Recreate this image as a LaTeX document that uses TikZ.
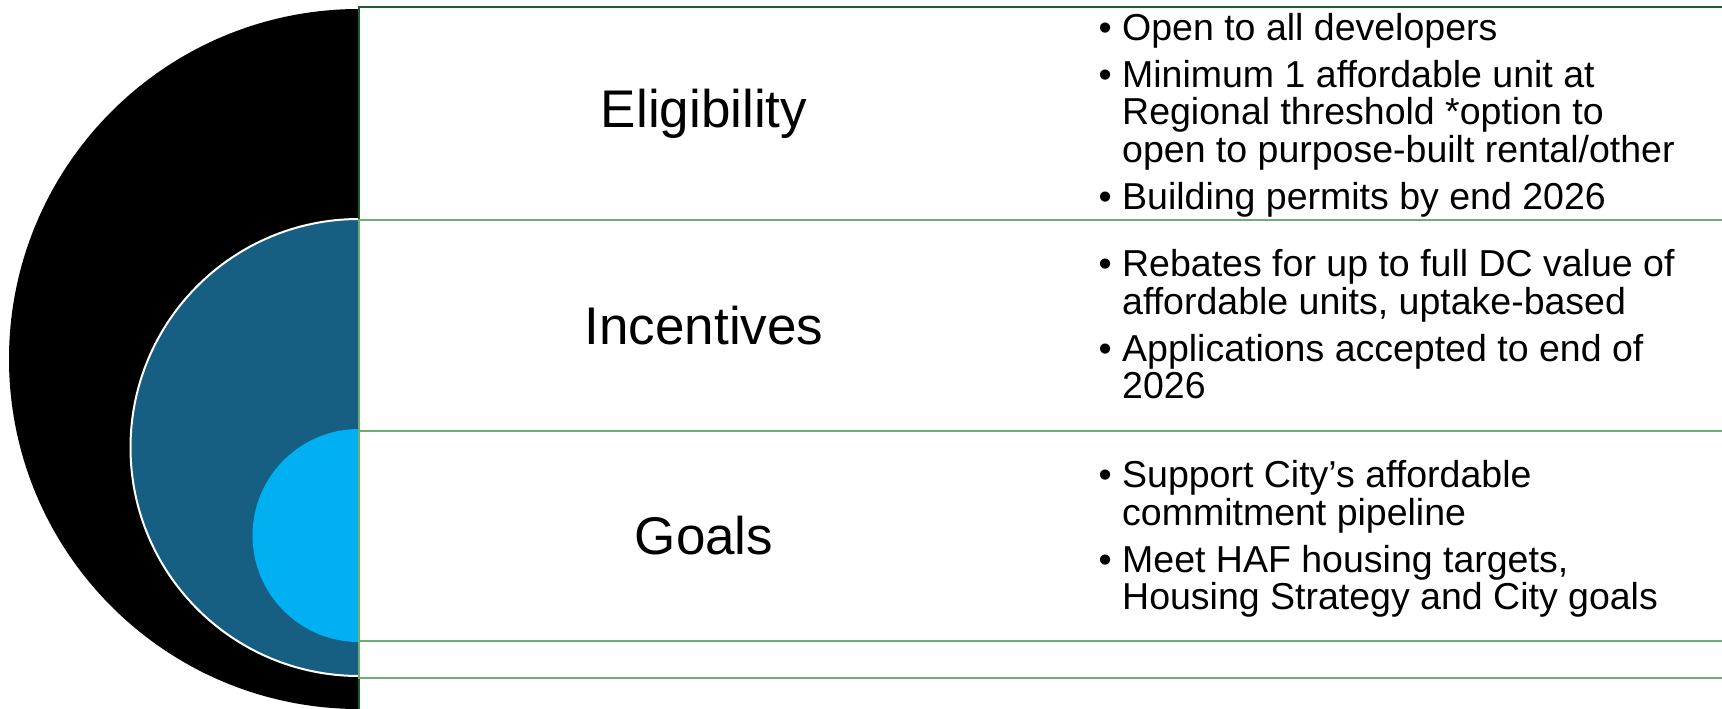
\documentclass[tikz,border=0pt]{standalone}
\usepackage{fontspec}
\setmainfont{Liberation Sans}
\definecolor{darkgreen}{HTML}{1F5F2F}
\definecolor{lightgreen}{HTML}{6FAE72}
\definecolor{midblue}{HTML}{175F82}
\definecolor{skyblue}{HTML}{00B0F0}
\newcommand{\bulletmark}{\makebox[0pt][r]{•\hspace{10.5pt}}}
\tikzset{
  outerbox/.style={draw=darkgreen, line width=2.5pt, fill=white},
  innerbox/.style={draw=lightgreen, line width=2.5pt, fill=white},
  title/.style={inner sep=0pt, font=\fontsize{53}{60}\selectfont},
  blist/.style={anchor=west, align=left, inner sep=0pt, font=\fontsize{37.5}{37.5}\selectfont}
}
\begin{document}
\begin{tikzpicture}[x=1pt,y=-1pt]
\useasboundingbox (0,0) rectangle (1722,709);
\begin{scope}
  \clip (0,0) rectangle (359,709);
  \fill[black] (359,359) circle[radius=350pt];
  \draw[fill=midblue, draw=white, line width=2pt] (359,447.5) circle[radius=228.5pt];
  \fill[skyblue] (359,535.5) circle[radius=106.5pt];
\end{scope}
\draw[outerbox] (359,7) rectangle (1735,720);
\draw[innerbox] (359,220) rectangle (1735,678);
\draw[innerbox] (359,431) rectangle (1735,641);
\node[title] (t1) at (704,113.5) {Eligibility};
\node[title] (t2) at (704,325.5) {Incentives};
\node[title] (t3) at (704,536) {Goals};
\node[blist] (b1) at (1122,115) {\bulletmark Open to all developers\\[9.5pt]\bulletmark Minimum 1 affordable unit at\\Regional threshold *option to\\open to purpose-built rental/other\\[9.5pt]\bulletmark Building permits by end 2026};
\node[blist] (b2) at (1122,324.5) {\bulletmark Rebates for up to full DC value of\\affordable units, uptake-based\\[9.5pt]\bulletmark Applications accepted to end of\\2026};
\node[blist] (b3) at (1122,539) {\bulletmark Support City’s affordable\\commitment pipeline\\[9.5pt]\bulletmark Meet HAF housing targets,\\Housing Strategy and City goals};
\end{tikzpicture}
\end{document}
